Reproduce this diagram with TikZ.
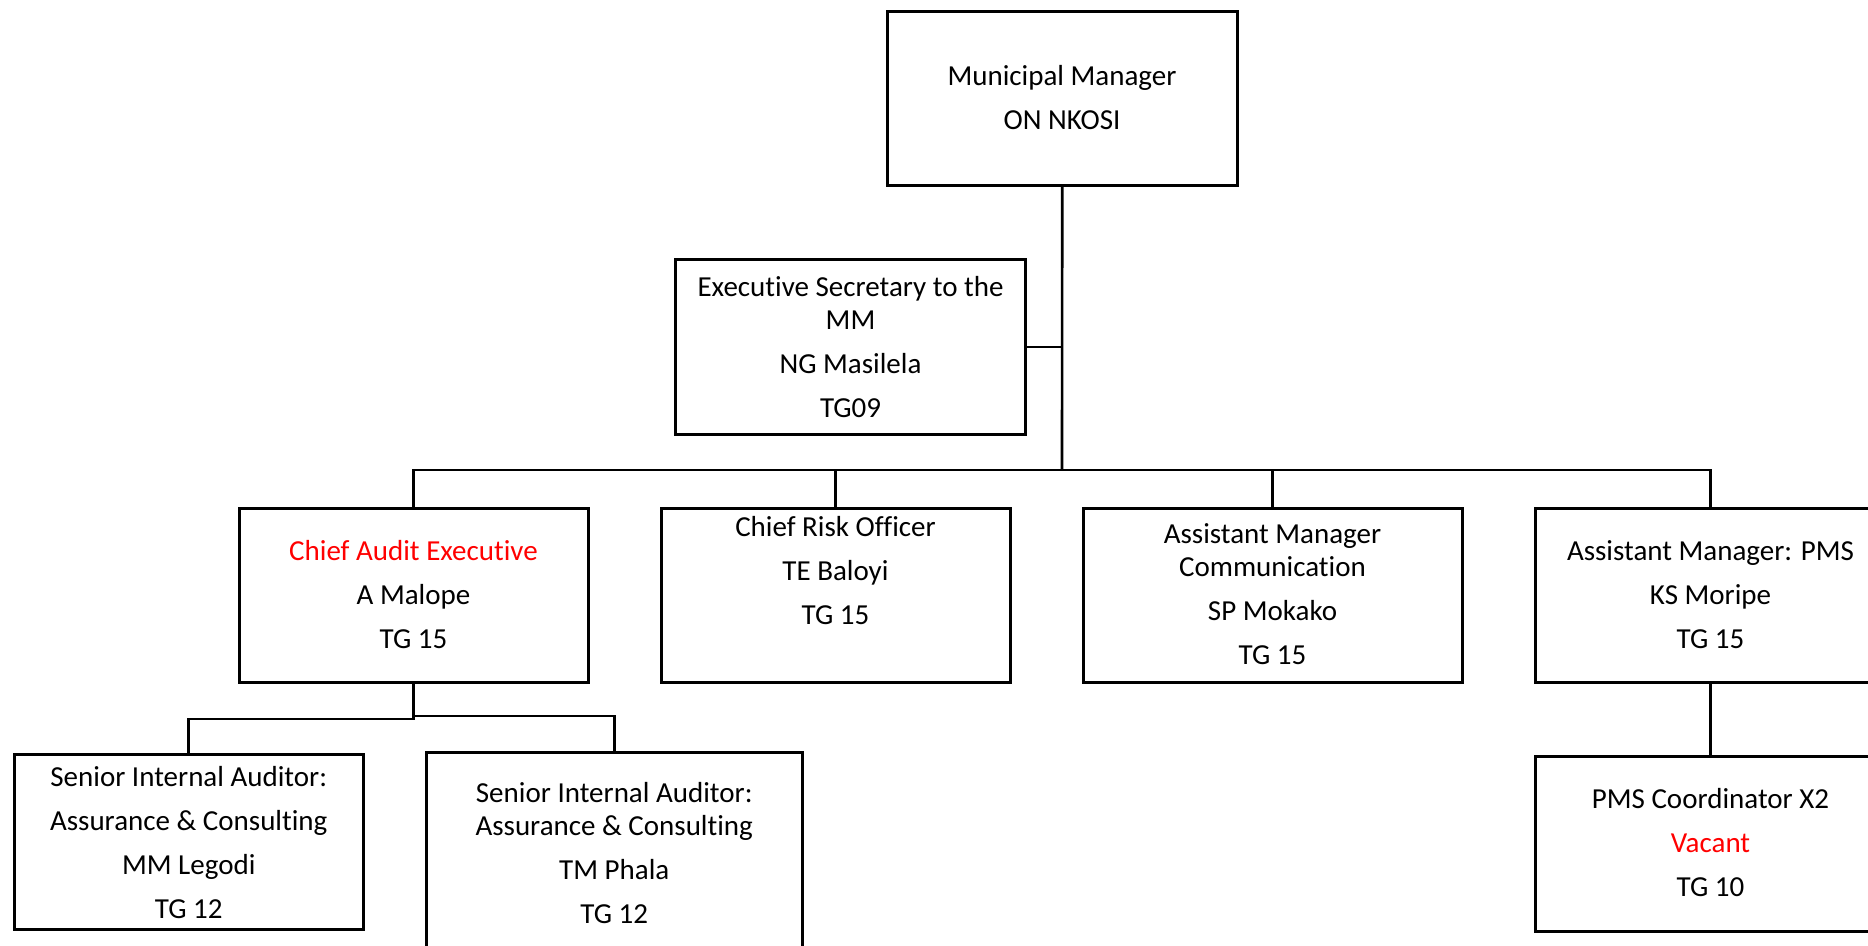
\documentclass[tikz,border=0pt]{standalone}
\usepackage{fontspec}
\setmainfont{Carlito}[Ligatures=NoCommon]
\begin{document}
\begin{tikzpicture}[x=0.4pt,y=-0.4pt,
  box/.style={draw=black,line width=1.2pt,fill=none,inner sep=0pt,outer sep=0pt},
  txt/.style={align=center,inner sep=0pt,font=\fontsize{11.6}{13.2}\selectfont},
  conn/.style={draw=black,line width=1.05pt}]
\useasboundingbox (0,0) rectangle (1868,946);
\clip (0,0) rectangle (1868,946);
\newcommand{\mkbox}[5]{% name, x1, y1, x2, y2
  \node[box,minimum width={(#4-#2)*0.4pt},minimum height={(#5-#3)*0.4pt}] (#1) at ({(#2+#4)/2},{(#3+#5)/2}) {};}
\mkbox{mm}{887.5}{12}{1237}{186}
\mkbox{es}{675.5}{260}{1025.5}{434}
\mkbox{cae}{239}{508}{588}{682.5}
\mkbox{cro}{661}{508}{1010}{682.5}
\mkbox{amc}{1083}{508}{1462}{682.5}
\mkbox{amp}{1535}{508}{1886}{682.5}
\mkbox{sia}{14}{754}{363.5}{929}
\mkbox{sib}{426.5}{752}{802}{1010}
\mkbox{pms}{1535}{756}{1886}{931}
% texts
\node[txt] (tmm) at (1062,98) {Municipal Manager\\[4.4pt]ON NKOSI};
\node[txt] (tes) at (850.5,346.7) {Executive Secretary to the\\MM\\[4.4pt]NG Masilela\\[4.4pt]TG09};
\node[txt] (tcae) at (413.5,595) {\textcolor{red}{Chief Audit Executive}\\[4.4pt]A Malope\\[4.4pt]TG 15};
\node[txt] (tcro) at (835.5,571) {Chief Risk Officer\\[4.4pt]TE Baloyi\\[4.4pt]TG 15};
\node[txt] (tamc) at (1272.5,594) {Assistant Manager\\Communication\\[4.4pt]SP Mokako\\[4.4pt]TG 15};
\node[txt] (tamp) at (1710.5,595) {Assistant Manager: PMS\\[4.4pt]KS Moripe\\[4.4pt]TG 15};
\node[txt] (tsia) at (188.75,843) {Senior Internal Auditor:\\[4.4pt]Assurance \& Consulting\\[4.4pt]MM Legodi\\[4.4pt]TG 12};
\node[txt] (tsib) at (614.25,853.5) {Senior Internal Auditor:\\Assurance \& Consulting\\[4.4pt]TM Phala\\[4.4pt]TG 12};
\node[txt] (tpms) at (1710.5,843) {PMS Coordinator X2\\[4.4pt]\textcolor{red}{Vacant}\\[4.4pt]TG 10};
% connectors
\coordinate (bus) at (1062,470);
\coordinate (ja) at (413.5,719);
\coordinate (jb) at (413.5,716);
\draw[conn] (mm.south) -- (bus);
\draw[conn] (es.east) -- (es.east -| bus);
\draw[conn] (cae.north) |- (bus) -| (amp.north);
\draw[conn] (cro.north) -- (cro.north |- bus);
\draw[conn] (amc.north) -- (amc.north |- bus);
\draw[conn] (cae.south) -- (ja) -| (sia.north);
\draw[conn] (cae.south) -- (jb) -| (sib.north);
\draw[conn] (amp.south) -- (pms.north);
\end{tikzpicture}
\end{document}
